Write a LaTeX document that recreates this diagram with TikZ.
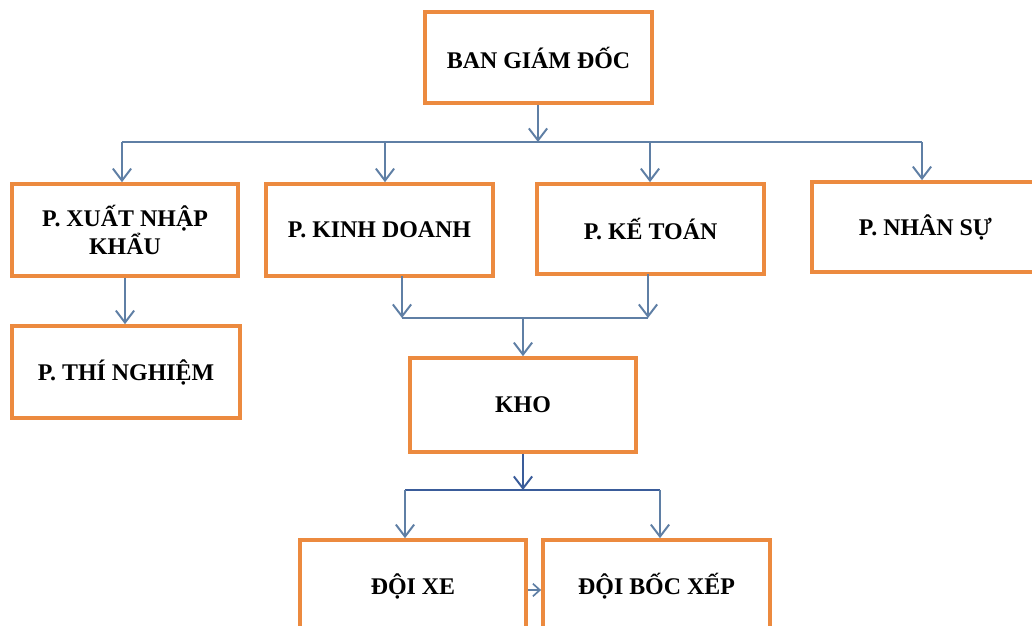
\documentclass[tikz,border=0pt]{standalone}
\usepackage{fontspec}
\setmainfont{Liberation Serif}
\usetikzlibrary{arrows.meta}
\definecolor{boxorange}{HTML}{EC8A3F}
\definecolor{linkblue}{HTML}{5F7FA5}
\definecolor{darkblue}{HTML}{3A5C9A}
\begin{document}
\begin{tikzpicture}[x=0.025cm,y=-0.025cm,
  box/.style={draw=boxorange, line width=2.6pt, minimum width=5.675cm, minimum height=2.3cm,
    inner sep=0pt, align=center, font=\fontsize{17}{18}\selectfont\bfseries},
  conn/.style={draw=linkblue, line width=1.4pt},
  arr/.style={conn, -{Straight Barb[length=8.5pt,width=13pt,line width=1.4pt]}}]
\useasboundingbox (0,0) rectangle (1032,625);
\clip (0,0) rectangle (1032,625);
% boxes
\node[box, minimum height=2.275cm] (ban) at (538.5,57.5) {BAN GIÁM ĐỐC};
\node[box, minimum width=5.65cm] (xnk) at (125,230) {P. XUẤT NHẬP\\KHẨU};
\node[box] (kd) at (379.5,230) {P. KINH DOANH};
\node[box, minimum height=2.25cm] (kt) at (650.5,229) {P. KẾ TOÁN};
\node[box, minimum height=2.25cm] (ns) at (925.5,227) {P. NHÂN SỰ};
\node[box, minimum width=5.7cm] (tn) at (126,372) {P. THÍ NGHIỆM};
\node[box, minimum width=5.65cm, minimum height=2.35cm] (kho) at (523,405) {KHO};
\node[box, minimum width=5.65cm] (xe) at (413,586) {ĐỘI XE};
\node[box] (bx) at (656.5,586) {\raisebox{3pt}{ĐỘI BỐC XẾP}};
% junction coordinates
\coordinate (j1) at (538,142);
\coordinate (j1a) at (122,142);
\coordinate (j1b) at (385,142);
\coordinate (j1c) at (650,142);
\coordinate (j1d) at (922,142);
\coordinate (k1) at (402,276);
\coordinate (k1b) at (402,318);
\coordinate (k2) at (648,274);
\coordinate (k2b) at (648,318);
\coordinate (k3) at (523,318);
\coordinate (m1) at (523,490);
\coordinate (m1a) at (405,490);
\coordinate (m1b) at (660,490);
% top level
\draw[arr] (ban.south -| j1) -- (j1);
\draw[conn] (j1a) -- (j1d);
\draw[arr] (j1a) -- (j1a |- xnk.north);
\draw[arr] (j1b) -- (j1b |- kd.north);
\draw[arr] (j1c) -- (j1c |- kt.north);
\draw[arr] (j1d) -- (j1d |- ns.north);
% xnk to thi nghiem
\draw[arr] (xnk.south) -- (xnk.south |- tn.north);
% kd, kt to kho
\draw[arr] (k1) -- (k1b);
\draw[arr] (k2) -- (k2b);
\draw[conn] (k1b) -- (k2b);
\draw[arr] (k3) -- (kho.north);
% kho to doi
\draw[arr, draw=darkblue] (kho.south) -- (m1);
\draw[conn, draw=darkblue] (m1a) -- (m1b);
\draw[arr] (m1a) -- (m1a |- xe.north);
\draw[arr] (m1b) -- (m1b |- bx.north);
% xe to boc xep
\draw[arr, -{Straight Barb[length=5pt,width=9pt,line width=1.2pt]}] ([yshift=-0.1cm]xe.east) -- ([yshift=-0.1cm]bx.west);
\end{tikzpicture}
\end{document}
